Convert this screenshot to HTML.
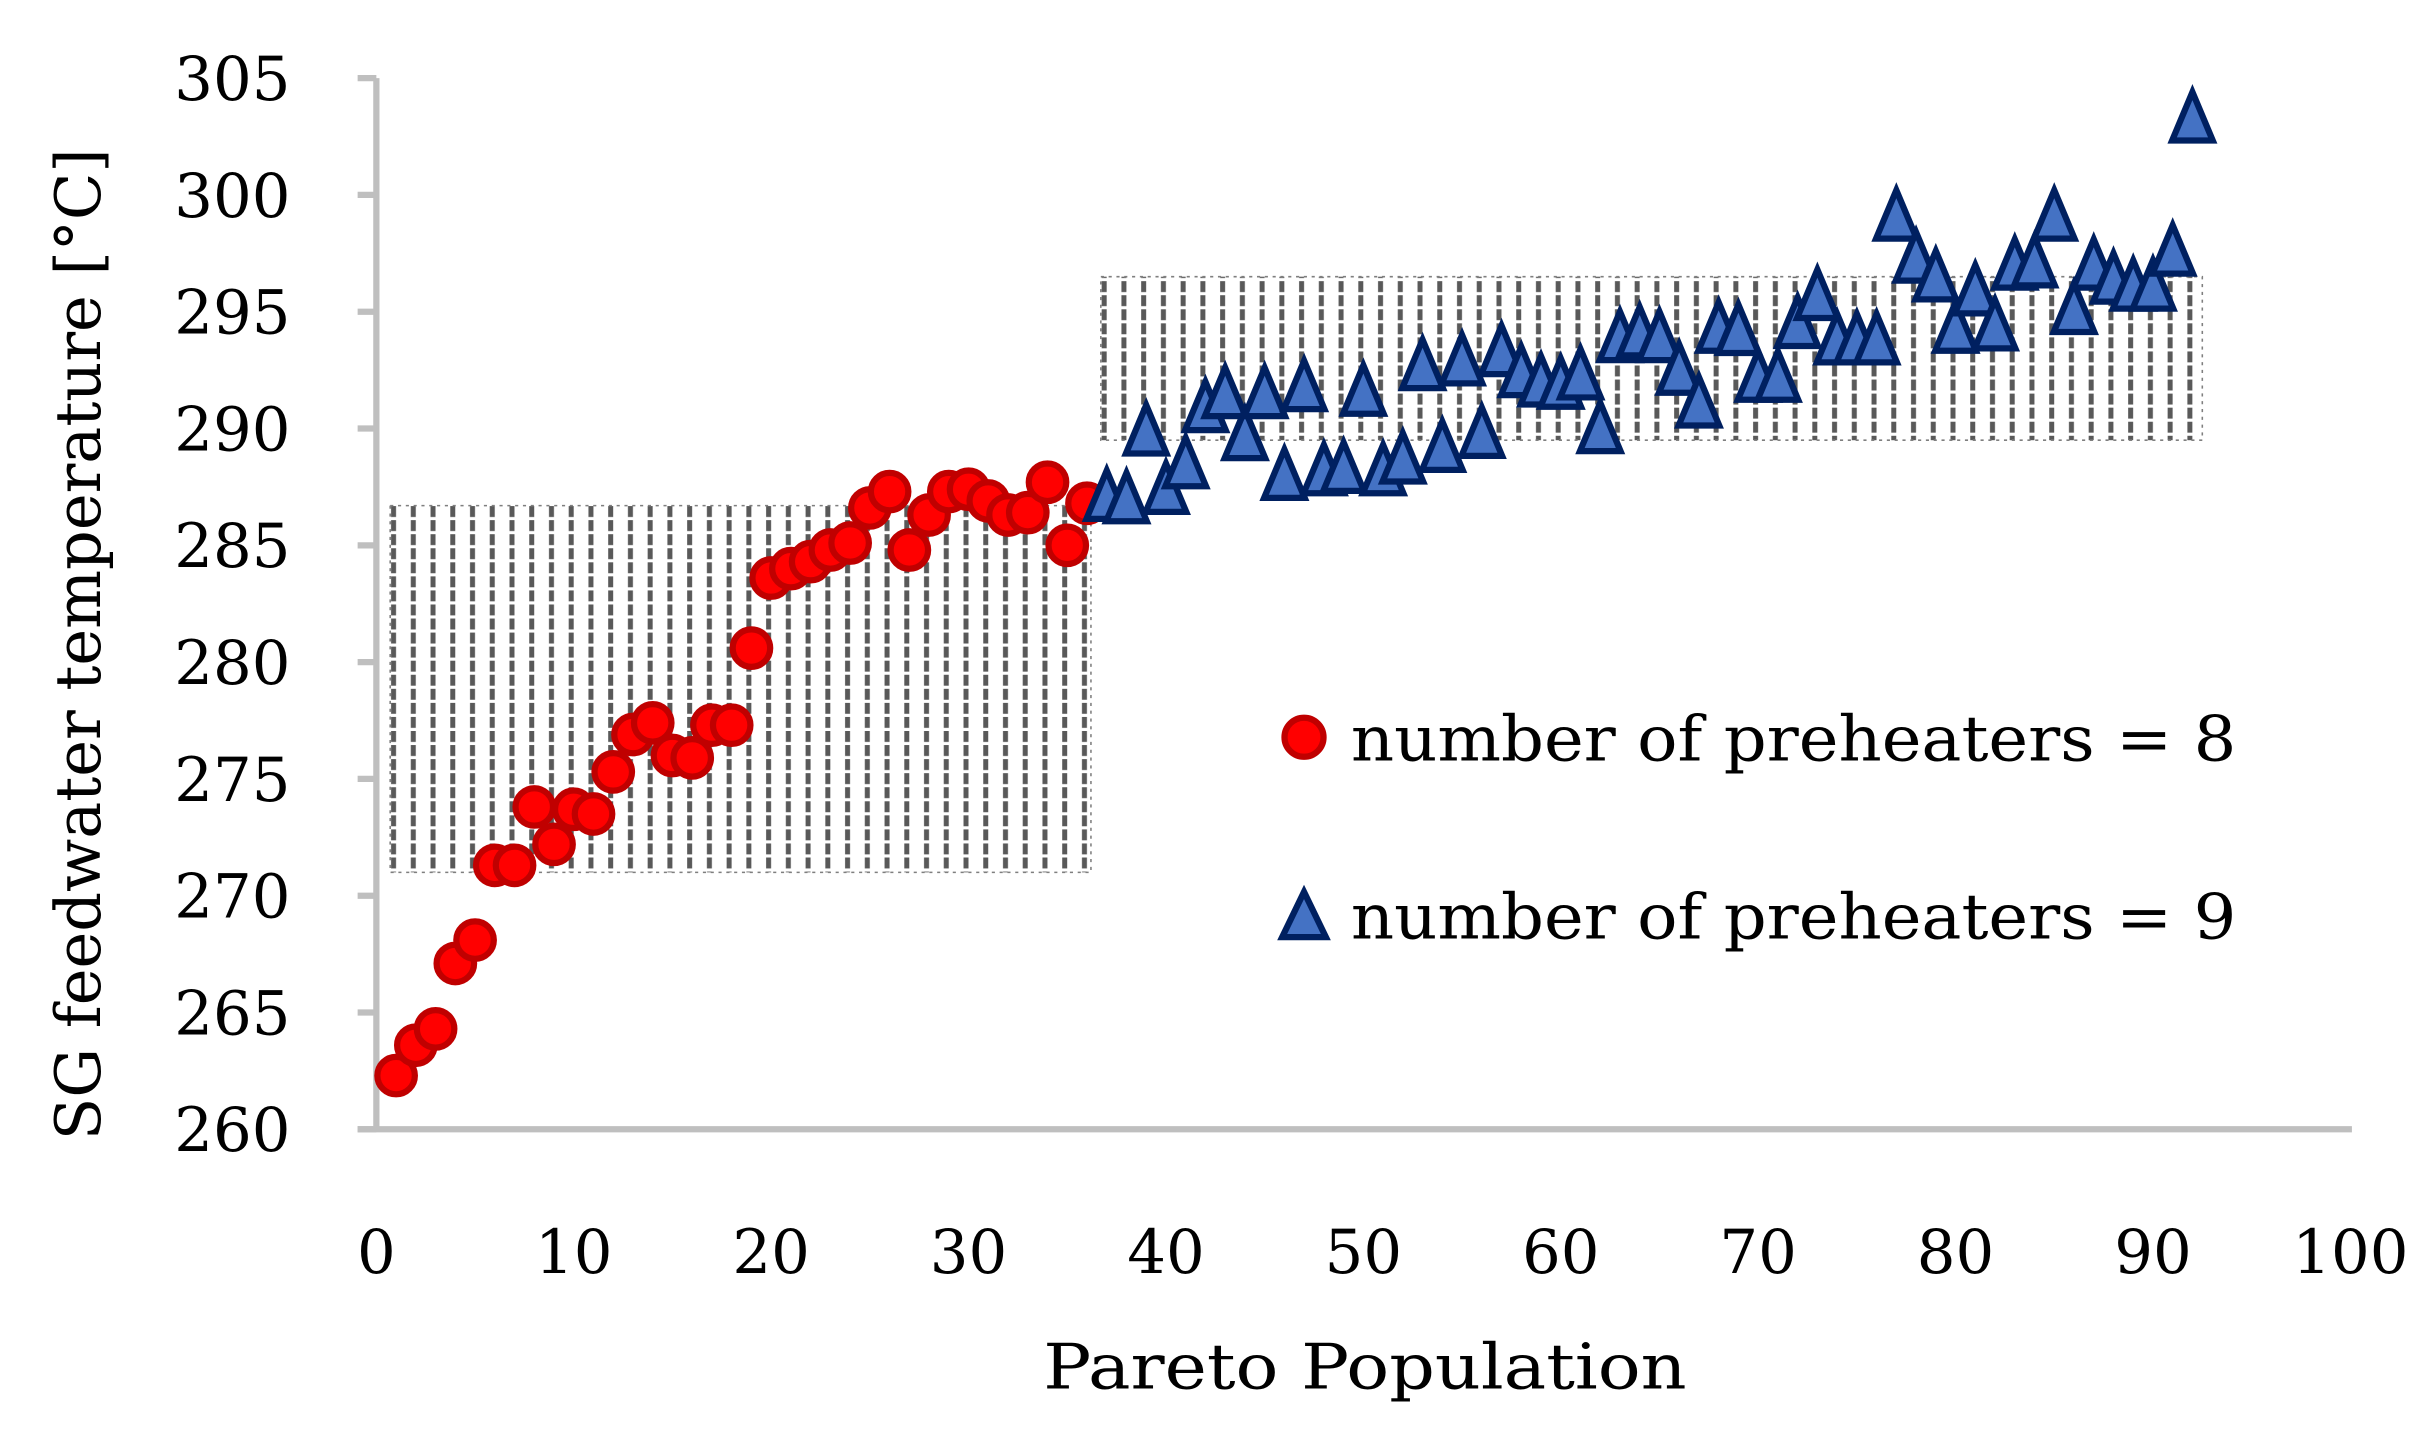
<!DOCTYPE html>
<html><head><meta charset="utf-8"><style>
html,body{margin:0;padding:0;background:#fff;}
svg{display:block;}
text{font-family:"DejaVu Serif","Liberation Serif",serif;fill:#000;}
</style></head><body>
<svg id="chart" width="2430" height="1437" viewBox="0 0 1556 920" preserveAspectRatio="none" xmlns="http://www.w3.org/2000/svg">
<defs>
<pattern id="hatch" patternUnits="userSpaceOnUse" x="250" y="0" width="12.64" height="9">
<line x1="2" y1="0" x2="2" y2="7" stroke="#595959" stroke-width="3.2"/>
</pattern>
</defs>
<g id="regions"></g>
<g id="axes"></g>
<g id="series8"></g>
<g id="series9"></g>
<g id="legend">
<circle cx="835" cy="472" r="12.5" fill="#ff0000" stroke="#c00000" stroke-width="4"/>
<text x="865" y="487" font-size="40" textLength="567" lengthAdjust="spacingAndGlyphs">number of preheaters = 8</text>
<polygon points="835,571 849,600 821,600" fill="#4472c4" stroke="#002060" stroke-width="4"/>
<text x="865" y="601" font-size="40" textLength="567" lengthAdjust="spacingAndGlyphs">number of preheaters = 9</text>
</g>
<text x="668" y="889" font-size="40" textLength="412" lengthAdjust="spacingAndGlyphs">Pareto Population</text>
<text transform="translate(64,730) rotate(-90)" font-size="40" textLength="635" lengthAdjust="spacingAndGlyphs">SG feedwater temperature [°C]</text>
</svg>
<script>
const xTicks=[0,10,20,30,40,50,60,70,80,90,100];
const yTicks=[260,265,270,275,280,285,290,295,300,305];
const vals8=[262.3,263.6,264.3,267.1,268.1,271.3,271.3,273.8,272.2,273.7,273.5,275.3,276.9,277.4,276.0,275.9,277.3,277.3,280.6,283.6,284.0,284.3,284.8,285.1,286.6,287.3,284.8,286.3,287.3,287.4,286.9,286.3,286.4,287.7,285.0,286.8];
const vals9=[287.0,286.9,289.8,287.3,288.4,290.8,291.4,289.6,291.4,287.9,291.7,288.1,288.2,291.5,288.1,288.6,292.6,289.1,292.8,289.7,293.2,292.3,291.9,291.8,292.2,289.9,293.8,294.0,293.8,292.4,291.0,294.2,294.1,292.1,292.1,294.4,295.6,293.7,293.7,293.7,299.0,297.2,296.4,294.2,295.8,294.3,296.9,297.0,299.0,295.0,296.9,296.3,296.0,296.0,297.5,303.2];
const start8=1, start9=37;
const regionX=[[0.7,36.2],[36.7,92.5]];
const regionY=[[271,286.7],[289.5,296.5]];
const NS='http://www.w3.org/2000/svg';
const X=v=>241+v*12.64;
const Y=v=>723-(v-260)*14.955;
function mk(tag,attrs,parent){const e=document.createElementNS(NS,tag);for(const k in attrs)e.setAttribute(k,attrs[k]);parent.appendChild(e);return e;}
const reg=document.getElementById('regions');
regionX.forEach((rx,i)=>{
 const r=mk('rect',{x:X(rx[0]),y:Y(regionY[i][1]),width:X(rx[1])-X(rx[0]),height:Y(regionY[i][0])-Y(regionY[i][1]),fill:'url(#hatch)',stroke:'#7f7f7f','stroke-width':1,'stroke-dasharray':'2,3'},reg);
 
 
});
const ax=document.getElementById('axes');
const ya=mk('line',{x1:X(0),y1:Y(305),x2:X(0),y2:Y(260),stroke:'#bfbfbf','stroke-width':4},ax);


const xa=mk('line',{x1:229,y1:Y(260),x2:1506,y2:Y(260),stroke:'#bfbfbf','stroke-width':4},ax);


yTicks.forEach(t=>{
 const tk=mk('line',{x1:229,y1:Y(t),x2:X(0),y2:Y(t),stroke:'#bfbfbf','stroke-width':4},ax);
 
 
 const tx=mk('text',{x:186,y:Y(t)+14,'font-size':39,'text-anchor':'end'},ax);
 tx.textContent=t;
 
 
});
xTicks.forEach(t=>{
 const tx=mk('text',{x:X(t),y:815,'font-size':39,'text-anchor':'middle'},ax);
 tx.textContent=t;
 
 
});
const s8=document.getElementById('series8');
vals8.forEach((v,i)=>{
 const c=mk('circle',{cx:X(start8+i),cy:Y(v),r:12,fill:'#ff0000',stroke:'#c00000','stroke-width':4},s8);
 
 
});
const s9=document.getElementById('series9');
vals9.forEach((v,i)=>{
 const x=X(start9+i),y=Y(v);
 const p=mk('polygon',{points:`${x},${y-18} ${x+13},${y+13} ${x-13},${y+13}`,fill:'#4472c4',stroke:'#002060','stroke-width':4},s9);
 
 
});
</script>
</body></html>
